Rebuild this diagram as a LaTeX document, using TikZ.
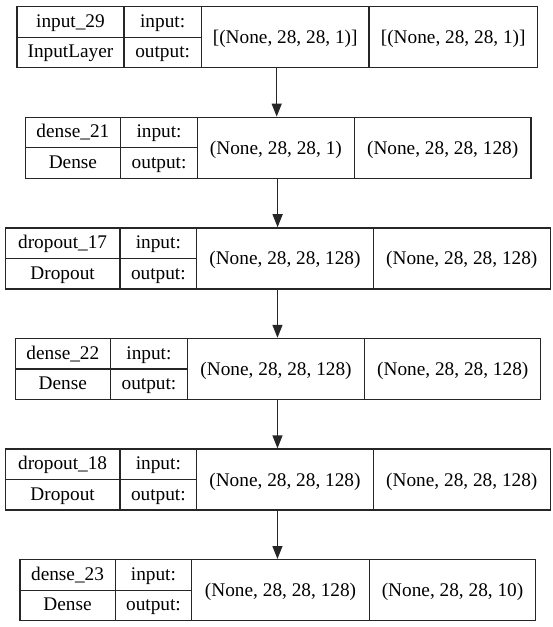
\documentclass[tikz,border=0pt]{standalone}
\usepackage{fontspec}
\setmainfont{Liberation Serif}
\usetikzlibrary{arrows.meta}

\begin{document}
\begin{tikzpicture}[x=1pt, y=-1pt, font=\fontsize{19.3}{23}\selectfont,
      cell/.style={draw=black!85, line width=1.3pt, inner sep=0pt, anchor=north west,
                   minimum height=30.5pt, text height=14.4pt, text depth=3.6pt},
      shapecell/.style={cell, minimum height=61pt, text height=17pt, text depth=4pt},
      frame/.style={inner sep=0pt, anchor=north west, minimum height=61pt},
      flow/.style={draw=black!85, line width=1.3pt, -{Triangle[length=13pt, width=10pt]}}]
      \useasboundingbox (0,0) rectangle (553,627);

      % input_29
      \node[frame, minimum width=520.4pt] (in29) at (16.3,6) {};
      \node[cell, minimum width=107pt]     (in29-n) at (16.3,6)    {input\_29};
      \node[cell, minimum width=107pt]     (in29-t) at (16.3,36.5) {InputLayer};
      \node[cell, minimum width=77.4pt]    (in29-i) at (123.3,6)    {input:};
      \node[cell, minimum width=77.4pt]    (in29-o) at (123.3,36.5) {output:};
      \node[shapecell, minimum width=167.7pt] (in29-a) at (200.7,6) {[(None, 28, 28, 1)]};
      \node[shapecell, minimum width=168.3pt] (in29-b) at (368.4,6) {[(None, 28, 28, 1)]};

      % dense_21
      \node[frame, minimum width=505.8pt] (d21) at (24.5,116.6) {};
      \node[cell, minimum width=95.5pt]    (d21-n) at (24.5,116.6)  {dense\_21};
      \node[cell, minimum width=95.5pt]    (d21-t) at (24.5,147.1)  {Dense};
      \node[cell, minimum width=76.8pt]    (d21-i) at (120.0,116.6) {input:};
      \node[cell, minimum width=76.8pt]    (d21-o) at (120.0,147.1) {output:};
      \node[shapecell, minimum width=156.9pt] (d21-a) at (196.8,116.6) {(None, 28, 28, 1)};
      \node[shapecell, minimum width=176.6pt] (d21-b) at (353.7,116.6) {(None, 28, 28, 128)};

      % dropout_17
      \node[frame, minimum width=545.1pt] (dr17) at (4.7,227.2) {};
      \node[cell, minimum width=114.6pt]   (dr17-n) at (4.7,227.2)   {dropout\_17};
      \node[cell, minimum width=114.6pt]   (dr17-t) at (4.7,257.7)   {Dropout};
      \node[cell, minimum width=76.8pt]    (dr17-i) at (119.3,227.2) {input:};
      \node[cell, minimum width=76.8pt]    (dr17-o) at (119.3,257.7) {output:};
      \node[shapecell, minimum width=176.4pt] (dr17-a) at (196.1,227.2) {(None, 28, 28, 128)};
      \node[shapecell, minimum width=177.3pt] (dr17-b) at (372.5,227.2) {(None, 28, 28, 128)};

      % dense_22
      \node[frame, minimum width=525.6pt] (d22) at (14.5,337.8) {};
      \node[cell, minimum width=95.4pt]    (d22-n) at (14.5,337.8)  {dense\_22};
      \node[cell, minimum width=95.4pt]    (d22-t) at (14.5,368.3)  {Dense};
      \node[cell, minimum width=76.8pt]    (d22-i) at (109.9,337.8) {input:};
      \node[cell, minimum width=76.8pt]    (d22-o) at (109.9,368.3) {output:};
      \node[shapecell, minimum width=177.4pt] (d22-a) at (186.7,337.8) {(None, 28, 28, 128)};
      \node[shapecell, minimum width=176pt]   (d22-b) at (364.1,337.8) {(None, 28, 28, 128)};

      % dropout_18
      \node[frame, minimum width=545.1pt] (dr18) at (4.7,448.4) {};
      \node[cell, minimum width=114.6pt]   (dr18-n) at (4.7,448.4)   {dropout\_18};
      \node[cell, minimum width=114.6pt]   (dr18-t) at (4.7,478.9)   {Dropout};
      \node[cell, minimum width=76.8pt]    (dr18-i) at (119.3,448.4) {input:};
      \node[cell, minimum width=76.8pt]    (dr18-o) at (119.3,478.9) {output:};
      \node[shapecell, minimum width=176.4pt] (dr18-a) at (196.1,448.4) {(None, 28, 28, 128)};
      \node[shapecell, minimum width=177.3pt] (dr18-b) at (372.5,448.4) {(None, 28, 28, 128)};

      % dense_23
      \node[frame, minimum width=515.8pt] (d23) at (19.2,559) {};
      \node[cell, minimum width=95.4pt]    (d23-n) at (19.2,559)    {dense\_23};
      \node[cell, minimum width=95.4pt]    (d23-t) at (19.2,589.5)  {Dense};
      \node[cell, minimum width=76.4pt]    (d23-i) at (114.6,559)   {input:};
      \node[cell, minimum width=76.4pt]    (d23-o) at (114.6,589.5) {output:};
      \node[shapecell, minimum width=177.8pt] (d23-a) at (191.0,559) {(None, 28, 28, 128)};
      \node[shapecell, minimum width=166.2pt] (d23-b) at (368.8,559) {(None, 28, 28, 10)};

      \draw[flow] (in29.south) -- (in29.south |- d21.north);
      \draw[flow] (d21.south)  -- (d21.south |- dr17.north);
      \draw[flow] (dr17.south) -- (dr17.south |- d22.north);
      \draw[flow] (d22.south)  -- (d22.south |- dr18.north);
      \draw[flow] (dr18.south) -- (dr18.south |- d23.north);
    \end{tikzpicture}
\end{document}
